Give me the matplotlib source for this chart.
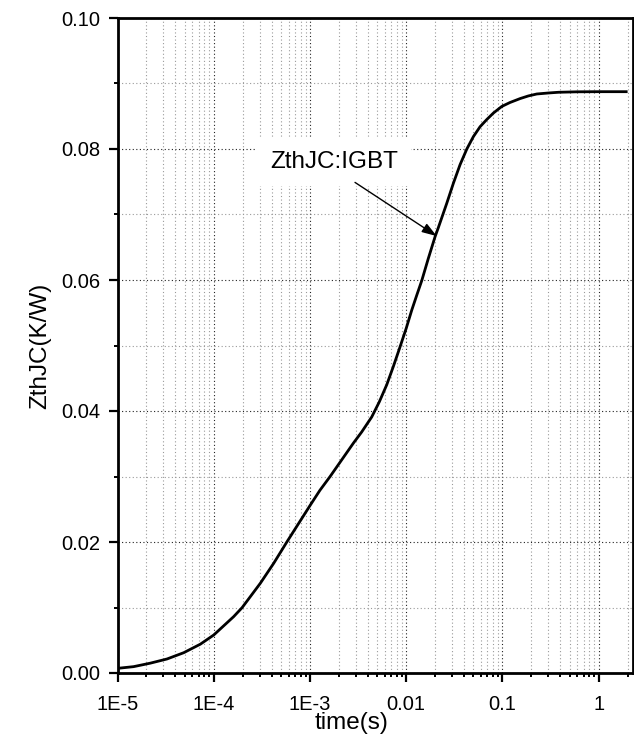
import matplotlib
matplotlib.use("Agg")
import matplotlib.pyplot as plt
from matplotlib.ticker import FixedLocator, FixedFormatter, LogLocator, MultipleLocator, NullFormatter

plt.rcParams['font.family'] = ['Liberation Sans', 'DejaVu Sans']

# data
time_s = [1e-5, 1.47e-5, 2.19e-5, 3.27e-5, 4.88e-5, 7.26e-5, 1e-4, 1.61e-4, 1.97e-4,
          3.05e-4, 4.2e-4, 5.78e-4, 1.01e-3, 1.27e-3, 1.62e-3, 2.83e-3, 3.45e-3,
          4.39e-3, 5.26e-3, 6.28e-3, 7.36e-3, 8.64e-3, 0.01, 0.01143, 0.0129,
          0.01452, 0.017, 0.01996, 0.0216, 0.0264, 0.031, 0.0363, 0.0427, 0.05,
          0.0586, 0.0688, 0.0808, 0.0986, 0.120, 0.153, 0.186, 0.228, 0.30, 0.382,
          0.6, 1.0, 2.0]
zth = [0.00071, 0.00097, 0.0015, 0.00214, 0.0031, 0.0044, 0.0058, 0.0086, 0.00997,
       0.0137, 0.01675, 0.02005, 0.02565, 0.0279, 0.0300, 0.0351, 0.0368,
       0.0391, 0.0414, 0.0440, 0.0468, 0.0498, 0.0526, 0.0554, 0.0577,
       0.0599, 0.0633, 0.0666, 0.0680, 0.0717, 0.0748, 0.0776, 0.0800, 0.0819,
       0.0834, 0.0845, 0.0855, 0.0865, 0.0871, 0.0877, 0.0881, 0.0884, 0.08855, 0.08866,
       0.08873, 0.08875, 0.08875]

x_ticks = [1e-5, 1e-4, 1e-3, 1e-2, 1e-1, 1]
x_tick_labels = ["1E-5", "1E-4", "1E-3", "0.01", "0.1", "1"]
y_ticks = [0.00, 0.02, 0.04, 0.06, 0.08, 0.10]
y_tick_labels = ["0.00", "0.02", "0.04", "0.06", "0.08", "0.10"]

annot_text = "ZthJC:IGBT"

fig = plt.figure(figsize=(6.34, 7.45), dpi=100)
ax = fig.add_axes([117.5 / 634, 1 - 673 / 745, 515 / 634, 655 / 745])

ax.plot(time_s, zth, color='black', lw=2.0, zorder=3, solid_joinstyle='round',
        solid_capstyle='butt')

ax.set_xscale('log')
ax.set_xlim(1e-5, 2.25)
ax.set_ylim(0, 0.10)

ax.xaxis.set_major_locator(FixedLocator(x_ticks))
ax.xaxis.set_major_formatter(FixedFormatter(x_tick_labels))
ax.xaxis.set_minor_locator(LogLocator(base=10, subs=range(2, 10), numticks=20))
ax.xaxis.set_minor_formatter(NullFormatter())
ax.yaxis.set_major_locator(FixedLocator(y_ticks))
ax.yaxis.set_major_formatter(FixedFormatter(y_tick_labels))
ax.yaxis.set_minor_locator(MultipleLocator(0.01))

ax.tick_params(which='major', direction='out', length=6.5, width=1.6, labelsize=14.5,
               top=False, right=False)
ax.tick_params(which='minor', direction='out', length=3, width=1.4,
               top=False, right=False)
ax.tick_params(axis='y', which='major', pad=6)
ax.tick_params(axis='x', which='major', pad=9)

for s in ax.spines.values():
    s.set_linewidth(2.0)

ax.grid(True, which='major', axis='both', linestyle=(0, (1, 2.2)), color='#222222', lw=0.8, zorder=1)
ax.grid(True, which='minor', axis='both', linestyle=(0, (1, 2.2)), color='#9a9a9a', lw=0.8, zorder=1)
ax.set_axisbelow(True)

ax.set_xlabel("time(s)", fontsize=17.5)
ax.xaxis.set_label_coords(0.455, -0.060)
ax.set_ylabel("ZthJC(K/W)", fontsize=17.5)
ax.yaxis.set_label_coords(-0.128, 0.5)

ax.text(1.78e-3, 0.0780, annot_text, fontsize=17.5, ha='center', va='center', zorder=4,
        bbox=dict(boxstyle='square,pad=0.55', facecolor='white', edgecolor='none'))
ax.annotate("", xy=(0.0208, 0.0667), xytext=(2.94e-3, 0.0749), zorder=5,
            arrowprops=dict(arrowstyle='-|>,head_length=0.9,head_width=0.3', color='black',
                            lw=1.0, shrinkA=0, shrinkB=0))

fig.savefig("out.png", dpi=100)
